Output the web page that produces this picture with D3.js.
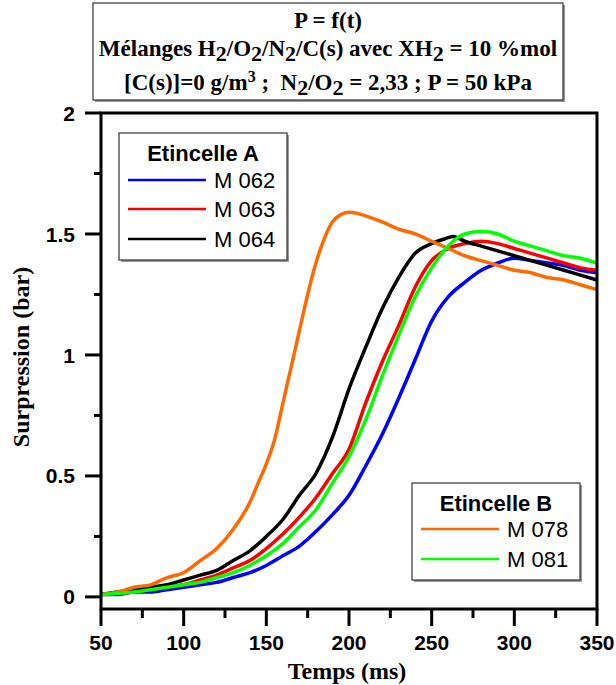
<!DOCTYPE html>
<html><head><meta charset="utf-8">
<script src="https://cdn.jsdelivr.net/npm/d3@7"></script>
<style>html,body{margin:0;padding:0;background:#fff;}svg{display:block;}</style>
</head><body>
<svg id="c" width="616" height="685"></svg>
<script>
// ---- data ----
const xTicks = [50, 100, 150, 200, 250, 300, 350];
const yTicks = [0, 0.5, 1, 1.5, 2];
const xTickLabels = ["50", "100", "150", "200", "250", "300", "350"];
const yTickLabels = ["0", "0.5", "1", "1.5", "2"];

const tBlue = [50,60,70,80,90,100,110,120,130,140,150,160,170,180,190,200,210,220,230,240,250,260,270,280,290,300,310,320,330,340,350];
const pBlue = [0.01,0.01,0.02,0.02,0.03,0.04,0.05,0.06,0.08,0.10,0.13,0.17,0.21,0.27,0.34,0.42,0.54,0.67,0.82,0.98,1.14,1.24,1.30,1.35,1.38,1.40,1.39,1.38,1.37,1.35,1.34];

const tRed = [50,60,70,80,90,100,110,120,130,140,150,160,170,180,190,200,210,220,230,240,250,260,270,280,290,300,310,320,330,340,350];
const pRed = [0.01,0.015,0.02,0.03,0.04,0.05,0.07,0.09,0.12,0.15,0.20,0.26,0.33,0.41,0.51,0.61,0.80,0.97,1.12,1.28,1.39,1.44,1.46,1.47,1.46,1.44,1.42,1.40,1.38,1.36,1.35];

const tBlack = [50,60,70,80,90,100,110,120,130,140,150,160,170,180,190,200,210,220,230,240,250,258,263,270,280,290,300,310,320,330,340,350];
const pBlack = [0.01,0.02,0.03,0.04,0.05,0.07,0.09,0.11,0.15,0.19,0.25,0.32,0.42,0.51,0.66,0.86,1.03,1.19,1.32,1.42,1.46,1.48,1.49,1.47,1.45,1.43,1.41,1.39,1.37,1.35,1.33,1.31];

const tOrange = [50,60,70,80,90,100,110,120,130,140,145,150,155,160,165,170,175,180,185,190,195,200,205,210,220,230,240,250,260,270,280,290,300,310,320,330,340,350];
const pOrange = [0.01,0.02,0.04,0.05,0.08,0.10,0.15,0.20,0.28,0.39,0.47,0.55,0.65,0.80,0.95,1.10,1.25,1.38,1.48,1.55,1.58,1.59,1.585,1.575,1.55,1.52,1.50,1.47,1.44,1.41,1.39,1.37,1.35,1.34,1.32,1.31,1.29,1.27];

const tGreen = [50,60,70,80,90,100,110,120,130,140,150,160,170,180,190,200,210,220,230,240,250,260,270,280,290,300,310,320,330,340,350];
const pGreen = [0.01,0.015,0.02,0.03,0.04,0.05,0.06,0.08,0.10,0.13,0.17,0.22,0.29,0.36,0.47,0.58,0.73,0.91,1.08,1.24,1.36,1.45,1.50,1.51,1.50,1.47,1.45,1.43,1.41,1.40,1.38];

const seriesNames = ["M 062", "M 063", "M 064", "M 078", "M 081"];
const seriesColors = ["#0000ff", "#ff0000", "#000000", "#ff6a00", "#00ff00"];

// ---- chart ----
const svg = d3.select("#c");
const X0 = 101, X1 = 597, Y0 = 609, Y1 = 113;
const x = d3.scaleLinear().domain([50, 350]).range([X0, X1]);
const y = d3.scaleLinear().domain([-0.05, 2]).range([Y0, Y1]);

const serif = "'Liberation Serif','Times New Roman',serif";
const sans = "'Liberation Sans',Arial,sans-serif";

// series
const series = [
  {t: tBlue, p: pBlue, c: seriesColors[0]},
  {t: tRed, p: pRed, c: seriesColors[1]},
  {t: tBlack, p: pBlack, c: seriesColors[2]},
  {t: tOrange, p: pOrange, c: seriesColors[3]},
  {t: tGreen, p: pGreen, c: seriesColors[4]}
];
const line = d3.line().x(d => x(d[0])).y(d => y(d[1])).curve(d3.curveMonotoneX);
const gLines = svg.append("g");
series.forEach(s => {
  gLines.append("path")
    .datum(s.t.map((t, i) => [t, s.p[i]]))
    .attr("d", line)
    .attr("fill", "none")
    .attr("stroke", s.c)
    .attr("stroke-width", 3.5)
    .attr("stroke-linejoin", "round");
});

// frame
svg.append("rect").attr("x", X0).attr("y", Y1).attr("width", X1 - X0).attr("height", Y0 - Y1)
  .attr("fill", "none").attr("stroke", "#000").attr("stroke-width", 3);

// x axis ticks
const xMinor = d3.range(75, 350, 50);
const gx = svg.append("g");
gx.selectAll("line.maj").data(xTicks).join("line")
  .attr("x1", d => x(d)).attr("x2", d => x(d)).attr("y1", Y0).attr("y2", Y0 + 17)
  .attr("stroke", "#000").attr("stroke-width", 3);
gx.selectAll("line.min").data(xMinor).join("line")
  .attr("x1", d => x(d)).attr("x2", d => x(d)).attr("y1", Y0).attr("y2", Y0 + 9)
  .attr("stroke", "#000").attr("stroke-width", 3);
gx.selectAll("text").data(xTicks).join("text")
  .attr("x", d => x(d)).attr("y", 650)
  .attr("text-anchor", "middle")
  .attr("font-family", sans).attr("font-weight", "bold").attr("font-size", 21)
  .text((d, i) => xTickLabels[i]);

// y axis ticks
const yMinor = [0.25, 0.75, 1.25, 1.75];
const gy = svg.append("g");
gy.selectAll("line.maj").data(yTicks).join("line")
  .attr("x1", X0 - 16).attr("x2", X0).attr("y1", d => y(d)).attr("y2", d => y(d))
  .attr("stroke", "#000").attr("stroke-width", 3);
gy.selectAll("line.min").data(yMinor).join("line")
  .attr("x1", X0 - 7).attr("x2", X0).attr("y1", d => y(d)).attr("y2", d => y(d))
  .attr("stroke", "#000").attr("stroke-width", 3);
gy.selectAll("text").data(yTicks).join("text")
  .attr("x", 75).attr("y", d => y(d)).attr("dy", "0.36em")
  .attr("text-anchor", "end")
  .attr("font-family", sans).attr("font-weight", "bold").attr("font-size", 21)
  .text((d, i) => yTickLabels[i]);

// axis titles
svg.append("text").attr("x", 347).attr("y", 679).attr("text-anchor", "middle")
  .attr("font-family", serif).attr("font-weight", "bold").attr("font-size", 24)
  .text("Temps (ms)");
svg.append("text").attr("transform", "translate(29,357) rotate(-90)").attr("text-anchor", "middle")
  .attr("font-family", serif).attr("font-weight", "bold").attr("font-size", 24)
  .text("Surpression (bar)");

// boxes with shadow
function box(x0, y0, w, h) {
  svg.append("rect").attr("x", x0 + 2).attr("y", y0 + 2).attr("width", w).attr("height", h).attr("fill", "#999");
  svg.append("rect").attr("x", x0).attr("y", y0).attr("width", w).attr("height", h)
    .attr("fill", "#fff").attr("stroke", "#333").attr("stroke-width", 1.2);
}

// title box
box(93, 3, 470, 97);
const tcx = 328;
function tline(yb, fs) {
  return svg.append("text").attr("x", tcx).attr("y", yb).attr("text-anchor", "middle")
    .attr("font-family", serif).attr("font-weight", "bold").attr("font-size", fs)
    .style("white-space", "pre");
}
// parts: strings are normal text; {sub} lowered, {sup} raised; the following string restores the baseline
function addParts(t, parts) {
  let pending = 0;
  parts.forEach(p => {
    if (typeof p === "string") {
      const ts = t.append("tspan").text(p);
      if (pending) ts.attr("dy", pending);
      pending = 0;
    } else if (p.sub) {
      t.append("tspan").attr("dy", 5 + pending).attr("font-size", 22).text(p.sub);
      pending = -5;
    } else if (p.sup) {
      t.append("tspan").attr("dy", -8 + pending).attr("font-size", 16).text(p.sup);
      pending = 8;
    }
  });
}
tline(28, 23).text("P = f(t)");
const l2 = tline(56, 23);
addParts(l2, ["Mélanges H", {sub: "2"}, "/O", {sub: "2"}, "/N", {sub: "2"}, "/C(s) avec XH", {sub: "2"}, " = 10 %mol"]);
const l3 = tline(90, 23);
addParts(l3, ["[C(s)]=0 g/m", {sup: "3"}, " ;  N", {sub: "2"}, "/O", {sub: "2"}, " = 2,33 ; P = 50 kPa"]);

// legends
function legend(x0, y0, w, h, title, titleY, items, lineX0, lineX1, textX, rowYs) {
  box(x0, y0, w, h);
  svg.append("text").attr("x", x0 + w / 2).attr("y", titleY).attr("text-anchor", "middle")
    .attr("font-family", sans).attr("font-weight", "bold").attr("font-size", 22).text(title);
  items.forEach((it, i) => {
    svg.append("line").attr("x1", lineX0).attr("x2", lineX1).attr("y1", rowYs[i]).attr("y2", rowYs[i])
      .attr("stroke", seriesColors[it]).attr("stroke-width", 2.5);
    svg.append("text").attr("x", textX).attr("y", rowYs[i]).attr("dy", "0.36em")
      .attr("font-family", sans).attr("font-size", 22).text(seriesNames[it]);
  });
}
legend(119, 133, 168, 127, "Etincelle A", 161, [0, 1, 2], 128, 206, 214, [180, 209, 239]);
legend(412, 483, 168, 97, "Etincelle B", 511, [3, 4], 421, 499, 507, [529, 559]);
</script>
</body></html>
